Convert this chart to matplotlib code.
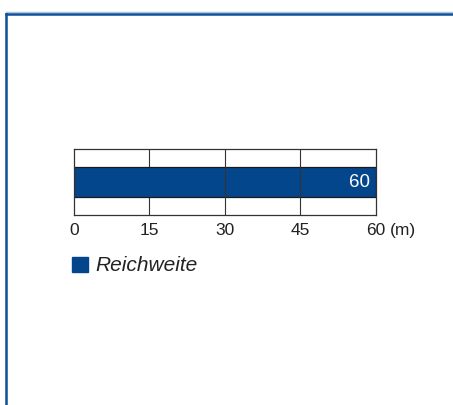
import matplotlib.pyplot as plt
import matplotlib.transforms as mtrans
from matplotlib.patches import Rectangle
from matplotlib.lines import Line2D

series = ["Reichweite"]
values = [60]
ticks = [0, 15, 30, 45, 60]
unit = "(m)"

W, H = 453, 406
plt.rcParams["font.family"] = ["Liberation Sans", "DejaVu Sans"]
fig = plt.figure(figsize=(W / 100, H / 100), dpi=100)

bar_color = "#04468c"
frame_color = "#0e4f9a"
text_color = "#222222"

# outer frame, top and left only
fig.add_artist(Line2D([6 / W, 1], [1 - 13.3 / H] * 2, color="#a9c2de", lw=1.0, transform=fig.transFigure))
fig.add_artist(Line2D([6 / W, 1], [1 - 15.3 / H] * 2, color=frame_color, lw=1.8, transform=fig.transFigure))
fig.add_artist(Line2D([6.3 / W] * 2, [0, 1 - 15.3 / H], color=frame_color, lw=1.8, transform=fig.transFigure))

ax = fig.add_axes([74 / W, 1 - 216 / H, (375.7 - 74) / W, 66 / H])
ax.barh([0], values, height=0.44, color=bar_color, edgecolor="#1a1a1a", linewidth=0.9, zorder=1)
ax.set_xlim(ticks[0], ticks[-1])
ax.set_ylim(-0.5, 0.5)
ax.set_yticks([])
ax.set_xticks(ticks)
ax.set_xticklabels([str(t) for t in ticks], fontsize=12.5, color=text_color)
ax.tick_params(axis="x", length=0, pad=5)
for t in ticks[2:-1]:
    ax.axvline(t, color="#333333", lw=0.8, zorder=2)
ax.axvline(ticks[1], color="#333333", lw=0.8, zorder=0.5)
for s in ax.spines.values():
    s.set_color("#333333")
    s.set_linewidth(0.9)

ax.text(values[0] - 1.2, 0, str(values[0]), color="white", fontsize=13.5, ha="right", va="center", zorder=3)
offset = mtrans.ScaledTranslation(0, -5 / 72, fig.dpi_scale_trans)
ax.text(ticks[-1] + 2.8, -0.5, unit, transform=ax.transData + offset, fontsize=12.5, color=text_color,
        ha="left", va="top")

# legend
fig.add_artist(Rectangle((72 / W, 1 - 273 / H), 16 / W, 15 / H, color=bar_color, transform=fig.transFigure))
fig.text(95 / W, 1 - 265.5 / H, series[0], fontsize=15, style="italic", color=text_color, va="center", ha="left")

fig.savefig("out.png", dpi=100)
